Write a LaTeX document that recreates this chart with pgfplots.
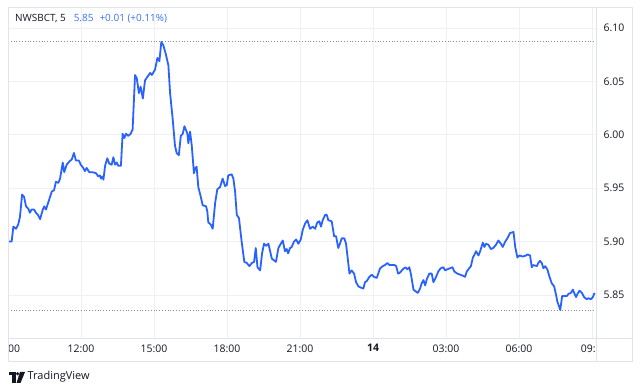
\documentclass[border=0pt]{standalone}
\usepackage{fontspec}
\setmainfont{Open Sans}
\usepackage{pgfplots}
\pgfplotsset{compat=1.18}
\definecolor{tvblue}{HTML}{2962FF}
\definecolor{tvtextblue}{HTML}{3A72F0}
\definecolor{tvtext}{HTML}{131722}
\definecolor{tvgrid}{HTML}{EEF0F4}
\definecolor{tvborder}{HTML}{E0E3EB}
\definecolor{tvdot}{HTML}{8A8D96}
\begin{document}
\begin{tikzpicture}
\path[use as bounding box] (0bp,0bp) rectangle (640bp,391bp);
\fill[white] (0bp,0bp) rectangle (640bp,391bp);
\begin{axis}[
  at={(8bp,53bp)}, anchor=south west,
  width=588bp, height=331bp, scale only axis,
  xmin=0, xmax=24.16, ymin=5.8097, ymax=6.1197,
  axis line style={draw=none},
  major tick length=0pt,
  grid=major,
  major grid style={tvgrid, line width=0.8bp},
  xtick={0,3,6,9,12,15,18,21,24},
  xticklabels={,12:00,15:00,18:00,21:00,\textbf{14},03:00,06:00,},
  extra x ticks={0.25,23.84},
  extra x tick labels={00,09:},
  extra x tick style={grid=none},
  ytick={5.85,5.90,5.95,6.00,6.05,6.10},
  yticklabels={5.85,5.90,5.95,6.00,6.05,6.10},
  yticklabel pos=right,
  tick label style={font=\fontsize{10.5}{12}\selectfont, text=tvtext},
  yticklabel style={anchor=west, xshift=4bp},
  xticklabel style={yshift=-3bp},
  clip=true,
]
\addplot[tvdot, line width=0.6bp, dash pattern=on 0.8bp off 2bp, forget plot] coordinates {(0,6.0878) (24.16,6.0878)};
\addplot[tvdot, line width=0.6bp, dash pattern=on 0.8bp off 2bp, forget plot] coordinates {(0,5.836) (24.16,5.836)};
\addplot[tvblue, line width=1.8bp, line join=round] coordinates {
(0.01,5.900) (0.15,5.900) (0.22,5.914) (0.33,5.912) (0.42,5.916) (0.49,5.923) (0.58,5.944) (0.66,5.942)
(0.74,5.933) (0.83,5.931) (0.90,5.927) (0.97,5.930) (1.07,5.930) (1.15,5.927) (1.23,5.925) (1.32,5.921)
(1.43,5.930) (1.49,5.933) (1.56,5.930) (1.66,5.937) (1.80,5.947) (1.89,5.948) (1.97,5.956) (2.07,5.955)
(2.14,5.959) (2.25,5.974) (2.31,5.965) (2.41,5.972) (2.52,5.975) (2.62,5.977) (2.71,5.983) (2.79,5.976)
(2.91,5.976) (2.99,5.972) (3.09,5.969) (3.16,5.966) (3.23,5.969) (3.34,5.965) (3.48,5.965) (3.62,5.964)
(3.71,5.961) (3.78,5.962) (3.82,5.959) (3.89,5.961) (3.92,5.958) (3.99,5.971) (4.08,5.978) (4.16,5.973)
(4.26,5.972) (4.33,5.979) (4.40,5.972) (4.47,5.974) (4.53,5.971) (4.64,5.971) (4.71,6.001) (4.78,5.997)
(4.85,6.001) (4.94,5.999) (5.04,6.001) (5.12,6.005) (5.22,6.056) (5.29,6.053) (5.38,6.039) (5.45,6.045)
(5.54,6.034) (5.63,6.051) (5.72,6.054) (5.84,6.058) (5.91,6.056) (6.04,6.061) (6.14,6.072) (6.22,6.069)
(6.30,6.087) (6.38,6.084) (6.48,6.076) (6.59,6.065) (6.66,6.039) (6.77,6.014) (6.86,5.990) (6.93,5.983)
(7.02,5.981) (7.10,5.999) (7.18,6.001) (7.25,6.008) (7.32,6.004) (7.37,6.001) (7.41,5.992) (7.48,6.003)
(7.55,5.990) (7.64,5.964) (7.70,5.969) (7.75,5.970) (7.82,5.951) (7.92,5.942) (8.00,5.934) (8.14,5.933)
(8.19,5.928) (8.23,5.918) (8.33,5.916) (8.41,5.912) (8.51,5.936) (8.60,5.949) (8.71,5.951) (8.82,5.959)
(8.92,5.952) (8.99,5.953) (9.05,5.962) (9.19,5.963) (9.26,5.959) (9.33,5.947) (9.40,5.925) (9.49,5.922)
(9.60,5.900) (9.71,5.881) (9.81,5.880) (9.92,5.877) (10.02,5.880) (10.11,5.881) (10.18,5.894) (10.25,5.876)
(10.36,5.873) (10.44,5.889) (10.52,5.898) (10.60,5.896) (10.70,5.898) (10.84,5.884) (10.90,5.883) (11.01,5.881)
(11.11,5.894) (11.21,5.898) (11.29,5.901) (11.38,5.891) (11.45,5.893) (11.51,5.889) (11.59,5.894) (11.66,5.895)
(11.75,5.900) (11.84,5.902) (11.93,5.898) (12.03,5.902) (12.11,5.911) (12.21,5.917) (12.30,5.920) (12.41,5.912)
(12.52,5.914) (12.62,5.912) (12.71,5.918) (12.79,5.919) (12.86,5.914) (12.93,5.920) (13.03,5.925) (13.10,5.925)
(13.16,5.920) (13.30,5.919) (13.40,5.905) (13.48,5.905) (13.57,5.894) (13.64,5.898) (13.71,5.903) (13.82,5.903)
(13.89,5.898) (13.99,5.878) (14.03,5.870) (14.12,5.873) (14.22,5.870) (14.30,5.862) (14.40,5.858) (14.49,5.857)
(14.60,5.856) (14.67,5.862) (14.74,5.863) (14.85,5.867) (14.95,5.869) (15.04,5.867) (15.15,5.866) (15.29,5.875)
(15.40,5.877) (15.49,5.878) (15.59,5.880) (15.67,5.878) (15.77,5.878) (15.88,5.878) (15.95,5.877) (16.03,5.870)
(16.11,5.871) (16.22,5.874) (16.33,5.876) (16.41,5.874) (16.49,5.876) (16.56,5.869) (16.66,5.855) (16.77,5.853)
(16.84,5.852) (16.93,5.856) (17.00,5.861) (17.07,5.864) (17.14,5.859) (17.21,5.865) (17.31,5.870) (17.41,5.870)
(17.48,5.862) (17.59,5.867) (17.68,5.872) (17.78,5.875) (17.89,5.876) (17.96,5.873) (18.05,5.874) (18.16,5.875)
(18.26,5.876) (18.34,5.872) (18.46,5.870) (18.58,5.869) (18.69,5.868) (18.78,5.867) (18.85,5.872) (18.95,5.875)
(19.02,5.877) (19.10,5.885) (19.15,5.887) (19.23,5.891) (19.33,5.887) (19.40,5.891) (19.51,5.899) (19.57,5.895)
(19.64,5.898) (19.74,5.897) (19.84,5.893) (19.94,5.894) (20.05,5.897) (20.15,5.901) (20.25,5.898) (20.33,5.895)
(20.43,5.900) (20.52,5.903) (20.63,5.908) (20.77,5.909) (20.84,5.895) (20.93,5.885) (21.01,5.887) (21.15,5.886)
(21.29,5.887) (21.34,5.888) (21.45,5.887) (21.52,5.876) (21.59,5.878) (21.73,5.877) (21.79,5.880) (21.86,5.882)
(21.93,5.880) (22.00,5.875) (22.07,5.877) (22.16,5.874) (22.25,5.867) (22.34,5.861) (22.44,5.858) (22.52,5.850)
(22.57,5.844) (22.63,5.840) (22.69,5.836) (22.77,5.849) (22.86,5.849) (22.96,5.849) (23.03,5.851) (23.13,5.852)
(23.21,5.855) (23.26,5.852) (23.34,5.848) (23.40,5.851) (23.48,5.854) (23.58,5.852) (23.67,5.848) (23.78,5.846)
(23.85,5.847) (23.95,5.846) (24.03,5.848) (24.10,5.852)
};
\end{axis}
% chart frame
\draw[tvborder, line width=0.8bp] (8bp,30bp) rectangle (632bp,384bp);
\draw[tvborder, line width=0.8bp] (596bp,30bp) -- (596bp,384bp);
\draw[tvborder, line width=0.8bp] (8bp,53bp) -- (632bp,53bp);
% legend text
\node[anchor=west, inner sep=0pt, font=\fontsize{10}{12}\selectfont] at (15bp,372bp)
  {\textcolor{tvtext}{NWSBCT, 5}\hspace{8bp}\textcolor{tvtextblue}{5.85\hspace{6bp}+0.01 (+0.11\%)}};
% TradingView logo
\fill[tvtext] (9bp,19bp) rectangle (15.5bp,16bp);
\fill[tvtext] (12bp,16bp) rectangle (15.5bp,8bp);
\fill[tvtext] (17.6bp,17.3bp) circle (1.7bp);
\fill[tvtext] (20bp,19bp) -- (25bp,19bp) -- (20.5bp,8bp) -- (16.5bp,8bp) -- cycle;
\node[anchor=west, inner sep=0pt, font=\fontsize{11}{13}\selectfont, text=tvtext] at (27.5bp,14bp) {TradingView};
\end{tikzpicture}
\end{document}
